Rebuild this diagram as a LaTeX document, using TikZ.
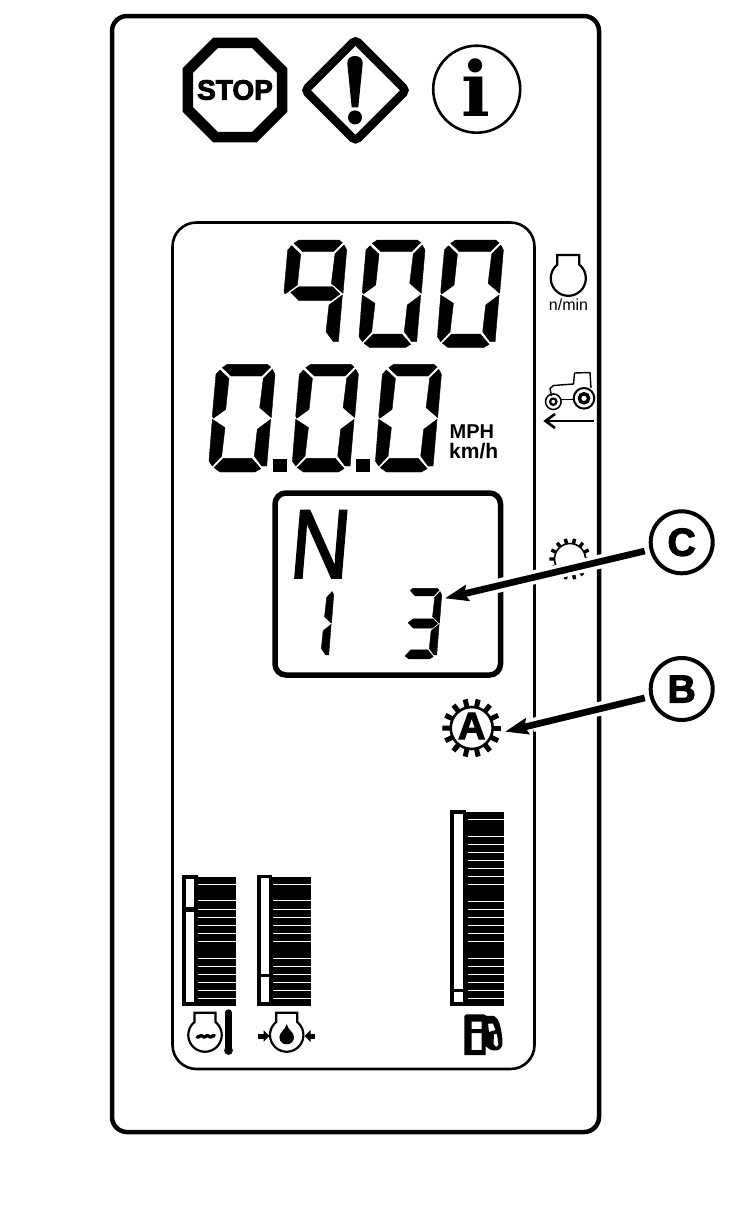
\documentclass[tikz,border=0pt]{standalone}
\usepackage{fontspec}
\setmainfont{Liberation Sans}
\newfontfamily\infofont{DejaVu Serif}
\newfontfamily\heavyfont[BoldFeatures={FakeBold=3}]{Liberation Sans}
\newfontfamily\rangefont[FakeBold=2]{Liberation Sans}
\usetikzlibrary{arrows.meta,shapes.geometric}

% Seven display segments, in units of the large digits
\newcommand{\segt}{\fill[lcdseg] (13,3.3) -- (18,0) -- (58,0) -- (61.4,2.7) -- (52.4,11.7) -- (21.7,11.7) -- cycle;}
\newcommand{\segul}{\fill[lcdseg] (10.7,5.7) -- (19.7,14.3) -- (16.4,45) -- (4,54) -- (3,51.7) -- (6.7,10) -- cycle;}
\newcommand{\segur}{\fill[lcdseg] (63,5) -- (65.7,10) -- (62,53.3) -- (50.4,43.3) -- (54,14) -- cycle;}
\newcommand{\segm}{\fill[lcdseg] (9.7,52.3) -- (18,46.7) -- (51.4,46.7) -- (59,54) -- (50,60.7) -- (18,60.7) -- cycle;}
\newcommand{\segll}{\fill[lcdseg] (3,55) -- (15.7,63.3) -- (12.4,91.7) -- (3,101.7) -- (-.3,96.7) -- cycle;}
\newcommand{\seglr}{\fill[lcdseg] (61.4,55) -- (57.4,101.7) -- (52.4,101.7) -- (45,91.7) -- (48,65) -- cycle;}
\newcommand{\segb}{\fill[lcdseg] (4.7,103.3) -- (14,94) -- (42.4,94) -- (51.4,104.3) -- (45.7,107.7) -- (10.7,107.7) -- cycle;}

\newcommand{\lcddigit}[4][]{%
  \begin{scope}[shift={(#2,#3)},#1]
    \foreach \s in {#4} {\csname seg\s\endcsname}
  \end{scope}}

% Engine outline: centre x, centre y, radius
\newcommand{\enginehead}[3]{%
  \draw[line width=2.2] plot[domain=-51:231,samples=40] ({#1+#3*cos(\x)},{#2+#3*sin(\x)})
    -- ++(0,{-.553*#3}) -- ++({1.26*#3},0) -- cycle;}

% Gear teeth and rim: centre x, centre y, rim radius, tip radius, tooth width, rim width
\newcommand{\gearicon}[6]{%
  \foreach \a in {0,...,13}
    \draw[line width=#5] ({#1+#3*cos(25.714*\a)},{#2+#3*sin(25.714*\a)})
      -- ({#1+#4*cos(25.714*\a)},{#2+#4*sin(25.714*\a)});
  \draw[line width=#6,fill=white] (#1,#2) circle[radius=#3];}

% Bar gauge: tube left, stripes left, stripes right, top, list of rulings
\newcommand{\bargauge}[5]{%
  \fill (#2,#4) rectangle (#3,1005.7);
  \foreach \r in {#5}
    \draw[white,line width=.9] ({#2+1.5},\r) -- (#3,\r);
  \draw[line width=3.6,fill=white] ({#1+1.8},{#4-.3}) rectangle ({#2-1.4},1004);}

\tikzset{
  lcdseg/.style={draw=black,fill=black,line width=.4,line join=round},
  callout/.style={circle,draw,line width=4,minimum size=62,inner sep=0,font=\heavyfont\bfseries\fontsize{39}{39}\selectfont},
  leader/.style={line width=6.7,shorten <=5,-{Stealth[length=23,width=16,inset=3]},
    preaction={draw=white,line width=14,-,shorten >=28}},
  unitlabel/.style={inner sep=0,anchor=base west,font=\bfseries\fontsize{20}{20}\selectfont},
}

\begin{document}
\begin{tikzpicture}[x=1pt,y=-1pt]
\useasboundingbox (0,0) rectangle (747,1221);

% Panel frames
\draw[line width=4.5,rounded corners=15] (112,16) rectangle (599,1132);
\draw[line width=2.6,rounded corners=24] (172.5,222.5) rectangle (534.5,1069);
\draw[line width=5.5,rounded corners=11] (275,493) rectangle (500.5,675);

% Warning lamps
\node[regular polygon,regular polygon sides=8,draw,line width=10.5,minimum size=102,inner sep=0] (stoplamp) at (235,90) {};
\node[inner sep=0,font=\heavyfont\bfseries\fontsize{28}{28}\selectfont] (stoptext) at (stoplamp) {STOP};
\draw[line width=8.5,rounded corners=4] (355.5,39.8) -- (406,90.3) -- (355.5,140.8) -- (305,90.3) -- cycle;
\fill (355,56) .. controls (360,56) and (362.7,59) .. (362.7,63.3) -- (358.3,107.3) -- (351.7,107.3) -- (347.3,63.3) .. controls (347.3,59) and (350,56) .. (355,56) -- cycle;
\fill (355,117.4) circle[radius=7];
\node[circle,draw,line width=2.6,minimum size=87,inner sep=0] (infolamp) at (476.7,89.2) {};
\node[inner sep=0,anchor=base,font=\infofont\bfseries\fontsize{76}{76}\selectfont] (infotext) at (476,116.7) {i};

% Engine speed and ground speed digits
\lcddigit{281}{240}{t,ul,ur,m,lr}
\lcddigit{359.3}{240}{t,ul,ur,ll,lr,b}
\lcddigit{437.7}{240}{t,ul,ur,ll,lr,b}
\lcddigit{209.3}{364.3}{t,ul,ur,ll,lr,b}
\lcddigit{292.7}{364.3}{t,ul,ur,ll,lr,b}
\lcddigit{375.7}{364.3}{t,ul,ur,ll,lr,b}
\fill (272.7,459) rectangle (286.7,472.3);
\fill (356,459) rectangle (370,472.3);
\node[unitlabel] (mph) at (449.5,438.3) {MPH};
\node[unitlabel,font=\bfseries\fontsize{21}{21}\selectfont] (kmh) at (449,458.3) {km/h};

% Side legends
\enginehead{568.3}{278.3}{17.5}
\node[inner sep=0,anchor=base,font=\fontsize{16}{16}\selectfont] (rpm) at (568.5,310.7) {n/min};
\draw[line width=1.4,line join=round] (551.5,396) -- (550,388.5) -- (553.5,385.5) -- (573.5,384) -- (574.5,373) -- (590,372.5) -- (591,388);
\draw[line width=1.4] (561,399.5) -- (574,399.5);
\draw[line width=2] (584,398.3) circle[radius=10.3];
\draw[line width=3.4] (584,398.3) circle[radius=4.6];
\draw[line width=1.5] (553.3,401.7) circle[radius=7.8];
\draw[line width=2.2] (553.3,401.7) circle[radius=3.2];
\draw[line width=1.6] (545,421) -- (593.5,421);
\draw[line width=2.6] (555,414) -- (545.5,421) -- (555,428);
\gearicon{570}{559}{15.5}{20.7}{3.4}{1.6}

% Gear display
\node[inner sep=0,anchor=base,xscale=.84,xslant=.1,font=\rangefont\fontsize{98}{98}\selectfont] (rangetext) at (318,578) {N};
\lcddigit[xscale=.6,yscale=.655]{294.3}{588.3}{ur,lr}
\lcddigit[xscale=.6,yscale=.655]{402.3}{588.3}{t,ur,m,lr,b}

% Gear icon
\gearicon{471.7}{728}{21}{29.3}{5}{2.6}
\node[inner sep=0,font=\heavyfont\bfseries\fontsize{38}{38}\selectfont] (gearletter) at (471.7,726) {A};

% Callouts
\coordinate (tipc) at (445,598.3);
\coordinate (tipb) at (505,731.7);
\node[callout] (labelc) at (681.7,542.3) {C};
\node[callout] (labelb) at (681.7,689) {B};
\draw[leader] (labelc) -- (tipc);
\draw[leader] (labelb) -- (tipb);

% Gauges
\bargauge{182}{196.7}{236}{876.7}{884,900.7,909.3,917.3,925.3,933.3,941,958.3,966.7,974.3,982.3,990.7,998.3}
\draw[line width=4.4,fill=white] (183.8,877) rectangle (195.8,909.6);
\bargauge{257.3}{271.7}{311}{876.7}{884,900.7,909.3,917.3,925.3,933.3,941,958.3,966.7,974.3,982.3,990.7,998.3}
\draw[line width=2.6] (258,975.3) -- (270.5,975.3);
\bargauge{450}{466}{504}{812.3}{819.3,836,844,852.3,860.3,868.3,876.3,884.3,901,909,917,925.3,933.3,941.3,958,966,974,982,990.3,998.3}
\draw[line width=3] (451,990) -- (465,990);

% Gauge icons
\enginehead{205}{1035}{16.7}
\draw[line width=3.4] plot[domain=0:1080,samples=40] ({196.5+\x/58},{1036.3+.6*sin(\x)});
\draw[line width=6.4,line cap=round] (228.5,1012.5) -- (228.5,1050);
\fill (228.5,1050.5) circle[radius=4.4];
\enginehead{286.7}{1035}{16.7}
\fill (286.7,1024) .. controls (285.5,1030) and (279.4,1032) .. (279.4,1037) .. controls (279.4,1041.5) and (282.5,1044.3) .. (286.7,1044.3) .. controls (290.9,1044.3) and (294,1041.5) .. (294,1037) .. controls (294,1032) and (287.9,1030) .. (286.7,1024) -- cycle;
\draw[line width=5,-{Triangle[length=6,width=11.5]}] (258.3,1036) -- (269.5,1036);
\draw[line width=5,-{Triangle[length=6,width=11.5]}] (315,1036) -- (304.5,1036);
\fill[even odd rule] (466,1014.3) -- (484,1014.3) -- (486,1015.7) -- (494,1016) .. controls (499,1018) and (501,1028) .. (502,1036) .. controls (503,1045) and (503,1050) .. (495,1050.5) .. controls (490,1050.5) and (488,1048) .. (485.5,1046) -- (485.5,1055) -- (464.3,1055) -- (464.3,1016) -- cycle
  (471.7,1021.7) rectangle (481.7,1029) (471.7,1033) rectangle (481.7,1050)
  (488,1023.5) -- (493,1023.5) -- (495.5,1030) -- (489,1032) -- cycle
  (494,1034) -- (497,1034) -- (498.5,1045) -- (496,1047) -- (493.5,1044) -- cycle;
\end{tikzpicture}
\end{document}
